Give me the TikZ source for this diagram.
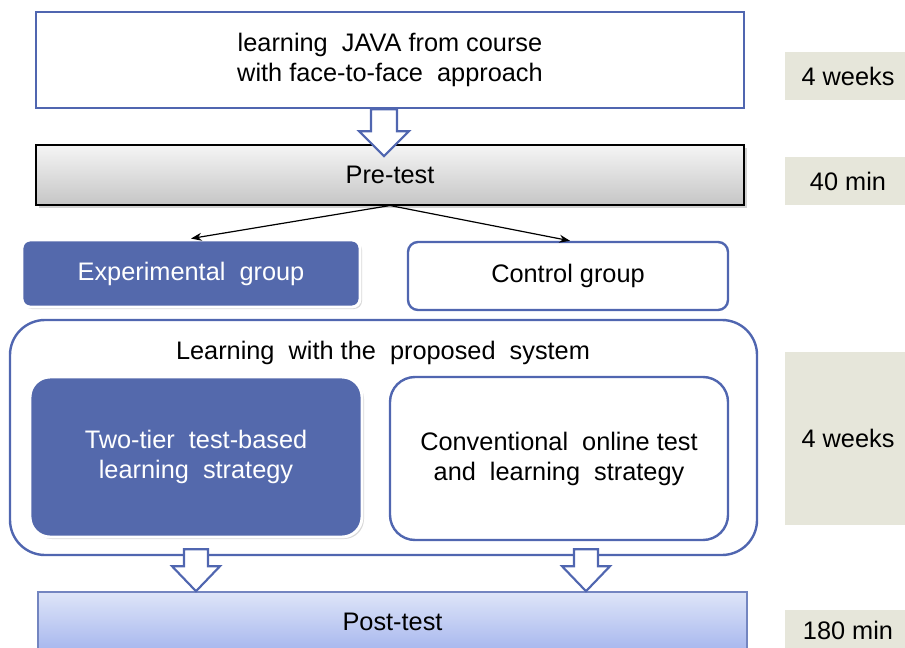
\documentclass[tikz,border=0pt]{standalone}
\usepackage{fontspec}
\setmainfont{Liberation Sans}
\usetikzlibrary{positioning}
\usetikzlibrary{shadows}
\usetikzlibrary{arrows.meta}
\definecolor{lineblue}{RGB}{80,102,176}
\definecolor{groupblue}{RGB}{84,105,172}
\definecolor{sidegray}{RGB}{230,230,218}
\definecolor{posttop}{RGB}{222,229,248}
\definecolor{postbot}{RGB}{166,182,238}
\newcommand{\pxu}{0.75pt}
% hollow block arrow hanging from a named anchor
\newcommand{\blockarrow}[3]{%
  \draw[hollow] (#1) ++(-#2,0) -- ++(0,#3) -- ++(-12,0) -- ++(12+#2,25)
    -- ++(12+#2,-25) -- ++(-12,0) -- ++(0,-#3) -- cycle;}
\tikzset{every node/.style={font=\fontsize{19}{22.5}\selectfont, align=center, inner sep=0pt},
         stage/.style={draw=lineblue, line width=1.8pt, fill=white},
         testbar/.style={draw=black, line width=0.8pt, top color=gray!8, bottom color=gray!45,
                         drop shadow={opacity=0.35, shadow xshift=2pt, shadow yshift=-2pt}},
         postbar/.style={draw=lineblue!80, line width=0.8pt, top color=posttop, bottom color=postbot},
         group/.style={fill=groupblue, draw=white, line width=2.2pt, text=white,
                       drop shadow={opacity=0.3, shadow xshift=1.5pt, shadow yshift=-1.5pt}},
         plain/.style={fill=white, draw=lineblue, line width=1.8pt},
         timebox/.style={fill=sidegray, minimum width=126*\pxu},
         hollow/.style={draw=lineblue, line width=1.6pt, fill=white},
         split/.style={-{Stealth[length=8pt,width=6pt]}, line width=0.9pt},
         }
\begin{document}
\begin{tikzpicture}[x=0.75pt, y=-0.75pt]
\useasboundingbox (0,0) rectangle (905,648);

\node[stage, minimum width=708*\pxu, minimum height=96*\pxu] (learn) at (390,60)
    {learning~ JAVA from course\\with face-to-face~ approach};
\node[testbar, minimum width=708*\pxu, minimum height=60*\pxu] (pre) at (390,175) {\raisebox{-1.5pt}{Pre-test}};

\node[group, rounded corners=8*\pxu, minimum width=338*\pxu, minimum height=67*\pxu] (exp) at (191,273.5)
    {Experimental~ group};
\node[plain, rounded corners=10*\pxu, minimum width=320*\pxu, minimum height=68*\pxu] (ctrl) at (568,276)
    {Control group};

\node[plain, rounded corners=35*\pxu, minimum width=747*\pxu, minimum height=235*\pxu] (sys) at (383.5,437.5) {};
\node (title) at (383,353) {Learning~ with the~ proposed~ system};
\node[group, rounded corners=20*\pxu, minimum width=332*\pxu, minimum height=160*\pxu] (tier) at (196,457)
    {Two-tier~ test-based\\learning~ strategy};
\node[plain, rounded corners=25*\pxu, minimum width=338*\pxu, minimum height=163*\pxu] (conv) at (559,458.5)
    {Conventional~ online test\\and~ learning~ strategy};

\node[postbar, minimum width=709*\pxu, minimum height=60*\pxu] (post) at (392.5,622) {\raisebox{-1.5pt}{Post-test}};

\node[timebox, minimum height=48*\pxu] (wk1) at (848,76) {4 weeks};
\node[timebox, minimum height=48*\pxu] (min40) at (848,181) {40 min};
\node[timebox, minimum height=173*\pxu] (wk2) at (848,438.5) {4 weeks};
\node[timebox, minimum height=40*\pxu] (min180) at (848,630) {180 min};

\draw[split] (pre.south) -- (exp.north);
\draw[split] (pre.south) -- ([xshift=2*\pxu]ctrl.north);

\coordinate (a1) at (learn.south -| 384,0);
\coordinate (a2) at (sys.south -| 196,0);
\coordinate (a3) at (sys.south -| 586,0);
\blockarrow{a1}{13}{22}
\blockarrow{[yshift=7*\pxu]a2}{12}{17}
\blockarrow{[yshift=7*\pxu]a3}{12}{17}
\end{tikzpicture}
\end{document}
